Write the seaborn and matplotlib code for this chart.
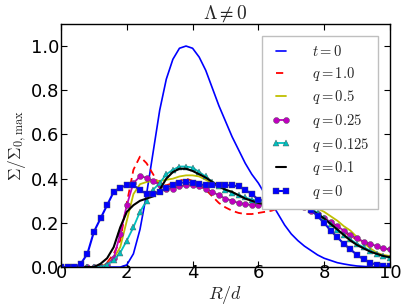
import numpy as np
import matplotlib
matplotlib.use("Agg")
import matplotlib.pyplot as plt
import seaborn as sns

# radius grid (R/d), sampled every 0.2
R = np.linspace(0, 10, 51)

sigma_t0 = [0, 0, 0, 0, 0, 0, 0, 0, 0, 0,
            0.01, 0.06, 0.17, 0.33, 0.52, 0.71, 0.85, 0.94, 0.99, 1.0,
            0.99, 0.95, 0.89, 0.81, 0.73, 0.66, 0.59, 0.53, 0.47, 0.42,
            0.38, 0.33, 0.29, 0.24, 0.19, 0.15, 0.12, 0.095, 0.075, 0.055,
            0.04, 0.03, 0.02, 0.014, 0.009, 0.005, 0.003, 0.001, 0, 0,
            0]
sigma_q1 = [0, 0, 0, 0, 0, 0, 0.005, 0.02, 0.06, 0.12,
            0.29, 0.44, 0.50, 0.47, 0.42, 0.37, 0.37, 0.38, 0.39, 0.40,
            0.39, 0.37, 0.35, 0.32, 0.29, 0.27, 0.255, 0.245, 0.24, 0.24,
            0.245, 0.25, 0.255, 0.265, 0.275, 0.28, 0.28, 0.27, 0.26, 0.24,
            0.22, 0.20, 0.18, 0.16, 0.14, 0.125, 0.11, 0.10, 0.09, 0.085,
            0.08]
sigma_q05 = [0, 0, 0, 0, 0, 0, 0.003, 0.015, 0.04, 0.09,
             0.21, 0.33, 0.375, 0.385, 0.39, 0.39, 0.395, 0.40, 0.41, 0.415,
             0.415, 0.41, 0.395, 0.38, 0.365, 0.35, 0.34, 0.325, 0.31, 0.30,
             0.29, 0.285, 0.285, 0.29, 0.29, 0.29, 0.29, 0.285, 0.275, 0.265,
             0.25, 0.23, 0.21, 0.185, 0.165, 0.135, 0.11, 0.085, 0.065, 0.055,
             0.05]
sigma_q025 = [0, 0, 0, 0, 0, 0, 0, 0.01, 0.04, 0.15,
              0.28, 0.38, 0.41, 0.405, 0.39, 0.37, 0.355, 0.355, 0.365, 0.37,
              0.37, 0.365, 0.355, 0.34, 0.325, 0.31, 0.30, 0.29, 0.285, 0.28,
              0.28, 0.28, 0.28, 0.285, 0.285, 0.285, 0.28, 0.27, 0.255, 0.24,
              0.22, 0.205, 0.185, 0.165, 0.145, 0.13, 0.115, 0.105, 0.095, 0.085,
              0.08]
sigma_q0125 = [0, 0, 0, 0, 0, 0, 0, 0.01, 0.03, 0.065,
               0.12, 0.18, 0.25, 0.30, 0.35, 0.38, 0.42, 0.44, 0.455, 0.455,
               0.45, 0.43, 0.41, 0.385, 0.365, 0.35, 0.335, 0.325, 0.315, 0.305,
               0.30, 0.295, 0.295, 0.295, 0.295, 0.295, 0.29, 0.28, 0.265, 0.245,
               0.22, 0.195, 0.17, 0.145, 0.125, 0.105, 0.09, 0.075, 0.06, 0.05,
               0.04]
sigma_q01 = [0, 0, 0, 0, 0, 0, 0.015, 0.04, 0.09, 0.18,
             0.25, 0.28, 0.30, 0.31, 0.32, 0.35, 0.40, 0.43, 0.445, 0.445,
             0.435, 0.42, 0.405, 0.385, 0.365, 0.35, 0.34, 0.325, 0.31, 0.30,
             0.29, 0.285, 0.285, 0.285, 0.29, 0.29, 0.285, 0.275, 0.26, 0.24,
             0.22, 0.195, 0.17, 0.145, 0.12, 0.10, 0.085, 0.07, 0.06, 0.05,
             0.045]
sigma_q0 = [0, 0, 0, 0.015, 0.06, 0.16, 0.22, 0.28, 0.34, 0.36,
            0.37, 0.37, 0.35, 0.33, 0.33, 0.34, 0.36, 0.37, 0.38, 0.385,
            0.38, 0.375, 0.37, 0.37, 0.37, 0.37, 0.37, 0.365, 0.35, 0.33,
            0.305, 0.30, 0.30, 0.305, 0.31, 0.31, 0.30, 0.28, 0.26, 0.23,
            0.20, 0.165, 0.135, 0.105, 0.08, 0.055, 0.035, 0.02, 0.01, 0.005,
            0.003]

labels = ["$t=0$", "$q=1.0$", "$q=0.5$", "$q=0.25$", "$q=0.125$", "$q=0.1$", "$q=0$"]

sns.set_style("ticks")
plt.rcParams["mathtext.fontset"] = "cm"
plt.rcParams["font.family"] = ["DejaVu Sans"]

fig = plt.figure(figsize=(4.07, 3.07), dpi=100)
ax = fig.add_axes([0.150, 0.130, 0.808, 0.792])

mk = dict(markersize=4.3, markeredgecolor="0.3", markeredgewidth=0.3)
sns.lineplot(x=R, y=sigma_t0, ax=ax, color="b", lw=1.2, label=labels[0])
sns.lineplot(x=R, y=sigma_q1, ax=ax, color="r", lw=1.3, dashes=(4, 2.5), label=labels[1])
sns.lineplot(x=R, y=sigma_q05, ax=ax, color=(0.75, 0.75, 0), lw=1.3, label=labels[2])
sns.lineplot(x=R, y=sigma_q025, ax=ax, color=(0.75, 0, 0.75), lw=1.3, marker="o", label=labels[3], **mk)
sns.lineplot(x=R, y=sigma_q0125, ax=ax, color=(0, 0.75, 0.75), lw=1.3, marker="^", label=labels[4], **mk)
sns.lineplot(x=R, y=sigma_q01, ax=ax, color="k", lw=1.5, label=labels[5])
sns.lineplot(x=R, y=sigma_q0, ax=ax, color="b", lw=1.5, marker="s", label=labels[6], **mk)

ax.set_xlim(0, 10)
ax.set_ylim(0, 1.1)
ax.set_xticks([0, 2, 4, 6, 8, 10])
ax.set_yticks([0.0, 0.2, 0.4, 0.6, 0.8, 1.0])
ax.set_yticklabels(["0.0", "0.2", "0.4", "0.6", "0.8", "1.0"])
ax.tick_params(direction="in", length=4, width=0.8, labelsize=13,
               top=True, right=True, colors="k")
ax.tick_params(axis="x", pad=-2)
ax.tick_params(axis="y", pad=1.5)
for s in ax.spines.values():
    s.set_visible(True)
    s.set_color("k")
    s.set_linewidth(1.0)

ax.set_title(r"$\Lambda \neq 0$", fontsize=14, pad=4)
ax.set_xlabel(r"$R/d$", fontsize=13, labelpad=1)
ax.set_ylabel(r"$\Sigma/\Sigma_{0,\mathrm{max}}$", fontsize=12.5, labelpad=1)

leg = ax.legend(loc="upper right", fontsize=10.5, numpoints=2, handlelength=1.3,
                handletextpad=1.5, labelspacing=0.38, borderaxespad=0.8,
                fancybox=False, framealpha=1, borderpad=0.6)
leg.get_frame().set_edgecolor("0.75")
leg.get_frame().set_linewidth(1.0)

fig.savefig("out.png", dpi=100, facecolor="white")
